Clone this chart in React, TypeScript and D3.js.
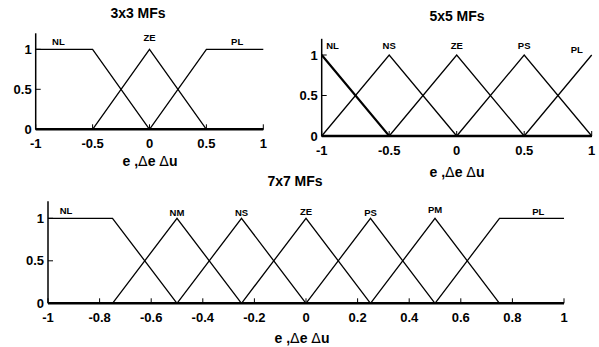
import * as d3 from "d3";

// membership functions: [a, b, c, d] trapezoid params (triangle when b == c)
const mf3Names = ["NL", "ZE", "PL"];
const mf3Params = [
  [-2, -1, -0.5, 0],
  [-0.5, 0, 0, 0.5],
  [0, 0.5, 1, 2],
];
const mf3LabelX = [-0.8, 0, 0.77];
const mf3LabelY = [1.05, 1.1, 1.06];

const mf5Names = ["NL", "NS", "ZE", "PS", "PL"];
const mf5Params = [
  [-1.5, -1, -1, -0.5],
  [-1, -0.5, -0.5, 0],
  [-0.5, 0, 0, 0.5],
  [0, 0.5, 0.5, 1],
  [0.5, 1, 1, 1.5],
];
const mf5LabelX = [-0.92, -0.5, 0, 0.5, 0.89];
const mf5LabelY = [1.07, 1.07, 1.08, 1.08, 1.02];

const mf7Names = ["NL", "NM", "NS", "ZE", "PS", "PM", "PL"];
const mf7Params = [
  [-2, -1, -0.75, -0.5],
  [-0.75, -0.5, -0.5, -0.25],
  [-0.5, -0.25, -0.25, 0],
  [-0.25, 0, 0, 0.25],
  [0, 0.25, 0.25, 0.5],
  [0.25, 0.5, 0.5, 0.75],
  [0.5, 0.75, 1, 2],
];
const mf7LabelX = [-0.93, -0.5, -0.25, 0, 0.25, 0.5, 0.9];
const mf7LabelY = [1.05, 1.03, 1.03, 1.04, 1.03, 1.06, 1.04];

const ticks3 = [-1, -0.5, 0, 0.5, 1];
const ticks7 = [-1, -0.8, -0.6, -0.4, -0.2, 0, 0.2, 0.4, 0.6, 0.8, 1];
const yTicks = [0, 0.5, 1];

const FONT = "'Liberation Sans', Arial, Helvetica, sans-serif";

const mu = (x: number, p: number[]) => {
  const [a, b, c, d] = p;
  if (x <= a || x >= d) return 0;
  if (x < b) return (x - a) / (b - a);
  if (x <= c) return 1;
  return (d - x) / (d - c);
};

const mfPoints = (p: number[]) => {
  const xs = [-1, ...p.filter((v) => v > -1 && v < 1), 1];
  return xs.map((x) => [x, mu(x, p)] as [number, number]);
};

type PanelProps = {
  title: string;
  names: string[];
  params: number[][];
  labelX: number[];
  labelY: number[];
  ticks: number[];
  x0: number;
  x1: number;
  y0: number;
  y1: number;
  titleX: number;
  titleY: number;
  axisLabelX: number;
  axisLabelY: number;
  boldFirst?: boolean;
};

const Panel = (p: PanelProps) => {
  const x = d3.scaleLinear().domain([-1, 1]).range([p.x0, p.x1]);
  const y = d3.scaleLinear().domain([0, 1]).range([p.y0, p.y1]);
  const line = d3
    .line<[number, number]>()
    .x((d) => x(d[0]))
    .y((d) => y(d[1]));
  // matlab style: plain hyphen for negatives
  const fmt = (v: number) => String(v);

  return (
    <g fontFamily={FONT} fontWeight="bold" fill="#000">
      <text x={p.titleX} y={p.titleY} fontSize={14} textAnchor="middle">
        {p.title}
      </text>

      {p.params.map((prm, i) => (
        <path
          key={i}
          d={line(mfPoints(prm)) || ""}
          fill="none"
          stroke="#000"
          strokeWidth={p.boldFirst && i === 0 ? 2.2 : 1.3}
        />
      ))}

      {p.names.map((n, i) => (
        <text
          key={n}
          x={x(p.labelX[i])}
          y={y(p.labelY[i])}
          fontSize={9.5}
          textAnchor="middle"
        >
          {n}
        </text>
      ))}

      {/* axes */}
      <line x1={p.x0} x2={p.x0} y1={y(0)} y2={y(1.2)} stroke="#000" strokeWidth={1.5} />
      <line x1={p.x0} x2={p.x1} y1={y(0)} y2={y(0)} stroke="#000" strokeWidth={2.6} />

      {p.ticks.map((t) => (
        <g key={t}>
          <line x1={x(t)} x2={x(t)} y1={y(0)} y2={y(0) - 5} stroke="#000" strokeWidth={1} />
          <text x={x(t)} y={y(0) + 19} fontSize={13} textAnchor="middle">
            {fmt(t)}
          </text>
        </g>
      ))}

      {yTicks.map((t) => (
        <g key={t}>
          <line x1={p.x0} x2={p.x0 + 5} y1={y(t)} y2={y(t)} stroke="#000" strokeWidth={1} />
          <text x={p.x0 - 4} y={y(t)} dy="0.35em" fontSize={13} textAnchor="end">
            {fmt(t)}
          </text>
        </g>
      ))}

      <text x={p.axisLabelX} y={p.axisLabelY} fontSize={14} textAnchor="middle">
        e ,<tspan fontWeight="normal" fontFamily="'DejaVu Sans', sans-serif">Δ</tspan>e{" "}
        <tspan fontWeight="normal" fontFamily="'DejaVu Sans', sans-serif">Δ</tspan>u
      </text>
    </g>
  );
};

export default function App() {
  return (
    <svg
      width={599}
      height={347}
      style={{ position: "absolute", left: 0, top: 0, background: "#fff" }}
    >
      <rect width={599} height={347} fill="#fff" />
      <Panel
        title="3x3 MFs"
        names={mf3Names}
        params={mf3Params}
        labelX={mf3LabelX}
        labelY={mf3LabelY}
        ticks={ticks3}
        x0={35.7}
        x1={263.3}
        y0={129.3}
        y1={49.3}
        titleX={138}
        titleY={18}
        axisLabelX={150}
        axisLabelY={166}
      />
      <Panel
        title="5x5 MFs"
        names={mf5Names}
        params={mf5Params}
        labelX={mf5LabelX}
        labelY={mf5LabelY}
        ticks={ticks3}
        x0={321.7}
        x1={591.7}
        y0={136}
        y1={55}
        titleX={457}
        titleY={21}
        axisLabelX={457}
        axisLabelY={177}
        boldFirst
      />
      <Panel
        title="7x7 MFs"
        names={mf7Names}
        params={mf7Params}
        labelX={mf7LabelX}
        labelY={mf7LabelY}
        ticks={ticks7}
        x0={48}
        x1={564}
        y0={303.3}
        y1={218.3}
        titleX={295}
        titleY={186}
        axisLabelX={302}
        axisLabelY={343}
      />
    </svg>
  );
}
